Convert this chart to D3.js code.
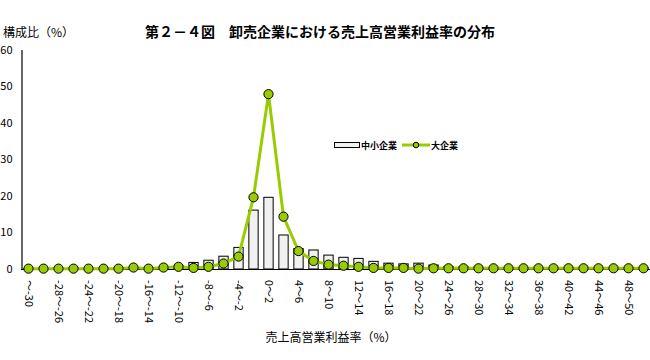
<!DOCTYPE html>
<html>
<head>
<meta charset="utf-8">
<script src="https://cdn.jsdelivr.net/npm/d3@7"></script>
<style>
    body { margin: 0; background: #fff; }
    text { font-family: "Noto Sans CJK JP", "DejaVu Sans", sans-serif; }
</style>
</head>
<body>
<div id="chart"></div>
<script>
    // categories: ～-30, -30～-28, ... 48～50, 50～
    var categories = [];
    for (var k = 0; k < 42; k++) {
        if (k === 0) categories.push("～-30");
        else if (k === 41) categories.push("50～");
        else categories.push((-32 + 2 * k) + "～" + (-30 + 2 * k));
    }

    // 中小企業 (bars)
    var smallValues = [0.1, 0.1, 0.1, 0.1, 0.1, 0.2, 0.2, 0.3, 0.3, 0.5,
        0.8, 1.8, 2.4, 3.5, 5.9, 16.1, 19.6, 9.3, 5.6, 5.2,
        3.8, 3.2, 2.9, 2.1, 1.6, 1.4, 1.6, 1.1, 0.7, 0.6,
        0.5, 0.4, 0.4, 0.3, 0.3, 0.3, 0.2, 0.2, 0.2, 0.2,
        0.2, 0.3];

    // 大企業 (line)
    var largeValues = [0.1, 0.1, 0.1, 0.1, 0.1, 0.1, 0.1, 0.4, 0.1, 0.4,
        0.6, 0.3, 0.6, 1.5, 3.4, 19.6, 47.8, 14.3, 4.9, 2.2,
        1.2, 0.9, 0.6, 0.3, 0.3, 0.3, 0.1, 0.2, 0.2, 0.2,
        0.2, 0.2, 0.2, 0.2, 0.2, 0.2, 0.2, 0.2, 0.2, 0.2,
        0.2, 0.2];

    var yTicks = [0, 10, 20, 30, 40, 50, 60];

    var svgWidth = 650;
    var svgHeight = 360;

    var svg = d3.select("#chart")
        .append("svg")
        .attr("width", svgWidth)
        .attr("height", svgHeight);

    var green = "#99cc00";

    // scales
    var xScale = d3.scaleBand()
        .domain(categories)
        .range([21, 651])
        .paddingInner(0.38)
        .paddingOuter(0.19);

    var yScale = d3.scaleLinear()
        .domain([0, 60])
        .range([269, 49.5]);

    // bars
    svg.append("g").selectAll("rect")
        .data(smallValues)
        .enter()
        .append("rect")
        .attr("x", (d, i) => xScale(categories[i]))
        .attr("y", d => yScale(d))
        .attr("width", xScale.bandwidth())
        .attr("height", d => yScale(0) - yScale(d))
        .attr("fill", "#f1f1f1")
        .attr("stroke", "#000")
        .attr("stroke-width", 1);

    // axes
    var leftAxis = d3.axisLeft(yScale).tickValues(yTicks).tickSize(0).tickPadding(9);
    var yAxis = svg.append("g")
        .attr("transform", "translate(21.5,0)")
        .call(leftAxis);
    yAxis.select(".domain").attr("stroke", "#000").attr("stroke-width", 1.2);
    yAxis.selectAll("text").attr("font-size", 11).attr("fill", "#000");

    svg.append("line")
        .attr("x1", 21).attr("x2", 650)
        .attr("y1", yScale(0) + 0.5).attr("y2", yScale(0) + 0.5)
        .attr("stroke", "#000").attr("stroke-width", 1.2);

    var bottomAxis = d3.axisBottom(xScale)
        .tickValues(categories.filter((c, i) => i % 2 === 0))
        .tickSize(0);
    var xAxis = svg.append("g")
        .attr("transform", `translate(0, ${yScale(0)})`)
        .call(bottomAxis);
    xAxis.select(".domain").remove();
    xAxis.selectAll("text")
        .attr("font-size", 11)
        .attr("fill", "#000")
        .attr("transform", "rotate(90)")
        .attr("text-anchor", "start")
        .attr("x", 11)
        .attr("y", 0)
        .attr("dy", "0.35em");

    // line
    var line = d3.line()
        .x((d, i) => xScale(categories[i]) + xScale.bandwidth() / 2)
        .y(d => yScale(d));

    svg.append("path")
        .datum(largeValues)
        .attr("d", line)
        .attr("fill", "none")
        .attr("stroke", green)
        .attr("stroke-width", 3);

    svg.append("g").selectAll("circle")
        .data(largeValues)
        .enter()
        .append("circle")
        .attr("cx", (d, i) => xScale(categories[i]) + xScale.bandwidth() / 2)
        .attr("cy", d => yScale(d))
        .attr("r", 4.6)
        .attr("fill", green)
        .attr("stroke", "#000")
        .attr("stroke-width", 1);

    // legend
    var legend = svg.append("g");
    legend.append("rect")
        .attr("x", 334.5).attr("y", 142.5)
        .attr("width", 25).attr("height", 5)
        .attr("fill", "#f1f1f1").attr("stroke", "#000");
    legend.append("text")
        .attr("x", 361).attr("y", 148.5)
        .attr("font-size", 9).attr("font-weight", "bold")
        .text("中小企業");
    legend.append("line")
        .attr("x1", 402).attr("x2", 430)
        .attr("y1", 145).attr("y2", 145)
        .attr("stroke", green).attr("stroke-width", 3);
    legend.append("circle")
        .attr("cx", 416).attr("cy", 145).attr("r", 2.8)
        .attr("fill", green).attr("stroke", "#000");
    legend.append("text")
        .attr("x", 431).attr("y", 148.5)
        .attr("font-size", 9).attr("font-weight", "bold")
        .text("大企業");

    // titles
    svg.append("text")
        .attr("x", 320).attr("y", 37)
        .attr("text-anchor", "middle")
        .attr("font-size", 14).attr("font-weight", "bold")
        .text("第２－４図　卸売企業における売上高営業利益率の分布");

    svg.append("text")
        .attr("x", 3).attr("y", 37)
        .attr("font-size", 12)
        .text("構成比（%）");

    svg.append("text")
        .attr("x", 331).attr("y", 342)
        .attr("text-anchor", "middle")
        .attr("font-size", 12)
        .text("売上高営業利益率（%）");
</script>
</body>
</html>
